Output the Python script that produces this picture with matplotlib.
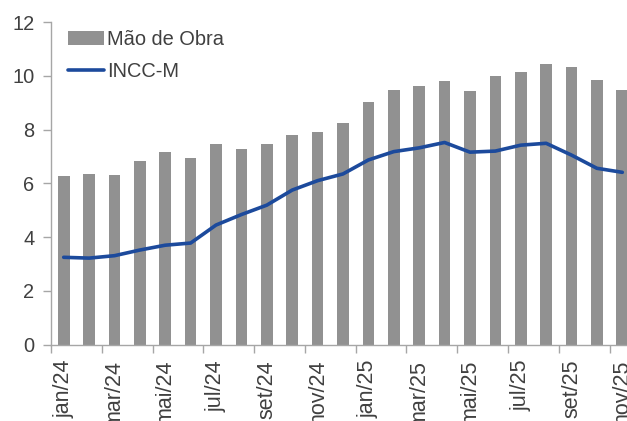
import matplotlib
matplotlib.use("Agg")
import matplotlib.pyplot as plt
from matplotlib.ticker import FixedLocator, NullFormatter

# --- dados ---
meses = ["jan/24", "fev/24", "mar/24", "abr/24", "mai/24", "jun/24", "jul/24", "ago/24",
         "set/24", "out/24", "nov/24", "dez/24", "jan/25", "fev/25", "mar/25", "abr/25",
         "mai/25", "jun/25", "jul/25", "ago/25", "set/25", "out/25", "nov/25"]
mao_de_obra = [6.27, 6.33, 6.30, 6.83, 7.15, 6.94, 7.45, 7.29, 7.46, 7.80, 7.92, 8.24,
               9.01, 9.48, 9.61, 9.80, 9.43, 9.99, 10.15, 10.45, 10.33, 9.83, 9.47]
incc_m = [3.25, 3.22, 3.31, 3.52, 3.70, 3.78, 4.45, 4.84, 5.19, 5.75, 6.10, 6.35,
          6.87, 7.18, 7.32, 7.52, 7.16, 7.20, 7.42, 7.49, 7.05, 6.56, 6.41]

plt.rcParams["font.family"] = ["Liberation Sans", "DejaVu Sans"]
txt = "#404040"
spine = "#a6a6a6"

fig = plt.figure(figsize=(6.27, 4.21), dpi=100)
ax = fig.add_axes([51 / 627, 76.3 / 421, 584 / 627, 322.7 / 421])

x = list(range(len(meses)))
barras = ax.bar(x, mao_de_obra, width=0.46, color="#919191", label="Mão de Obra", zorder=2)
linha, = ax.plot(x, incc_m, color="#1c4a9c", lw=2.6, label="INCC-M", zorder=3,
                 solid_joinstyle="round", solid_capstyle="round")

ax.set_xlim(-0.5, len(meses) - 0.5)
ax.set_ylim(0, 12)
ax.set_yticks(range(0, 13, 2))

# marcas nas fronteiras a cada 2 meses, rótulos nos centros
ax.xaxis.set_major_locator(FixedLocator([i - 0.5 for i in range(0, len(meses) + 1, 2)]))
ax.xaxis.set_major_formatter(NullFormatter())
ax.set_xticks(x[::2], minor=True)
ax.set_xticklabels(meses[::2], minor=True, rotation=90, ha="center", va="top")
ax.tick_params(axis="x", which="major", length=6, width=1, color=spine, direction="out")
ax.tick_params(axis="x", which="minor", length=0, pad=11, labelsize=15.5, labelcolor=txt)
ax.tick_params(axis="y", length=6, width=1, color=spine, labelsize=14.4, labelcolor=txt, pad=6)

for s in ["top", "right"]:
    ax.spines[s].set_visible(False)
for s in ["left", "bottom"]:
    ax.spines[s].set_color(spine)
    ax.spines[s].set_linewidth(1)

leg = ax.legend([barras, linha], ["Mão de Obra", "INCC-M"],
                loc="upper left", bbox_to_anchor=(0.015, 1.0), frameon=False,
                fontsize=14.4, handlelength=1.8, handletextpad=0.15, labelspacing=0.66,
                borderaxespad=0)
for t in leg.get_texts():
    t.set_color(txt)

fig.savefig("out.png", dpi=100)
